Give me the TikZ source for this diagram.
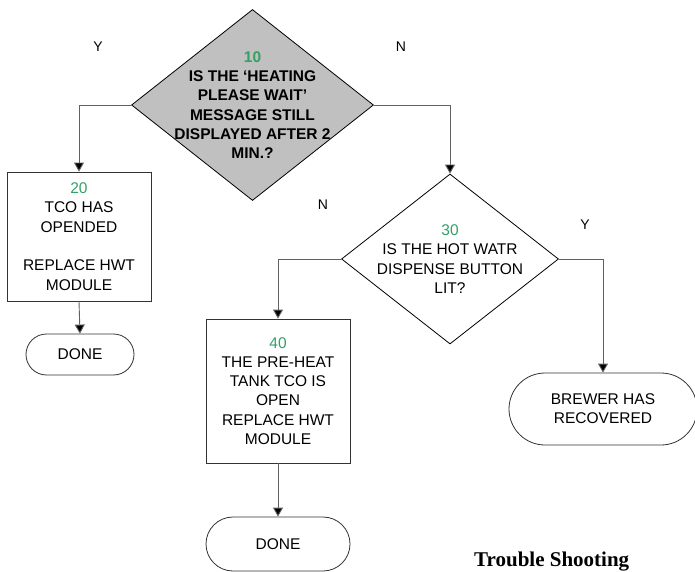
\documentclass[tikz,border=0pt]{standalone}
\usepackage{fontspec}
\setmainfont{Liberation Sans}
\newfontfamily\titlefont{Liberation Serif}
\usetikzlibrary{shapes.geometric,shapes.misc,arrows.meta}
\definecolor{stepgreen}{RGB}{51,160,102}
\definecolor{decisiongrey}{RGB}{192,192,192}
\tikzset{
  txt/.style={align=center,font=\fontsize{15.5}{19.3}\selectfont,inner sep=0pt},
  decision/.style={diamond,draw=black,line width=0.8pt,inner sep=0pt},
  process/.style={rectangle,draw=black!80,line width=0.8pt,inner sep=0pt},
  terminal/.style={rounded rectangle,draw=black!80,line width=0.8pt,inner sep=0pt,
    font=\fontsize{15.5}{19.3}\selectfont,align=center},
  flow/.style={draw=black!62,line width=0.9pt,-{Triangle[length=9pt,width=10pt,fill=black]}},
  branch/.style={font=\fontsize{14}{16}\selectfont,inner sep=0pt},
  num/.style={text=stepgreen}
}
\begin{document}
\begin{tikzpicture}[x=1pt,y=-1pt]
\useasboundingbox (0,0) rectangle (695,572);

% decision 10
\node[decision,fill=decisiongrey,minimum width=242pt,minimum height=191pt,
  label={[txt,font=\bfseries\fontsize{15.5}{19.3}\selectfont]center:{\textcolor{stepgreen}{10}\\IS THE ‘HEATING\\PLEASE WAIT’\\MESSAGE STILL\\DISPLAYED AFTER 2\\MIN.?}}]
  (d10) at (252.5,105) {};

% step 20
\node[process,minimum width=144pt,minimum height=129pt] (b20) at (79,236.5) {};
\node[txt] (t20) at (b20.center) {\textcolor{stepgreen}{20}\\TCO HAS\\OPENDED\\[19.3pt]REPLACE HWT\\MODULE};
\node[terminal,minimum width=108pt,minimum height=41pt] (done1) at (80,354.5) {DONE};

% decision 30
\node[decision,fill=white,minimum width=217pt,minimum height=170pt,
  label={[txt]center:{\textcolor{stepgreen}{30}\\IS THE HOT WATR\\DISPENSE BUTTON\\LIT?}}]
  (d30) at (450,259) {};

% step 40
\node[process,minimum width=144pt,minimum height=144pt] (b40) at (278,391) {};
\node[txt] (t40) at (b40.center) {\textcolor{stepgreen}{40}\\THE PRE-HEAT\\TANK TCO IS\\OPEN\\REPLACE HWT\\MODULE};
\node[terminal,minimum width=144pt,minimum height=54pt] (done2) at (278,544) {DONE};

% end state
\node[terminal,minimum width=188pt,minimum height=72pt] (brew) at (603,409) {BREWER HAS\\RECOVERED};

% connectors
\draw[flow] (d10.west) -| (b20.north);
\draw[flow] (d10.east) -| (d30.north);
\draw[flow] (b20.south) -- (done1.north);
\draw[flow] (d30.west) -| (b40.north);
\draw[flow] (d30.east) -| (brew.north);
\draw[flow] (b40.south) -- (done2.north);

% branch labels
\node[branch] (y1) at (98,47) {Y};
\node[branch] (n1) at (401,47) {N};
\node[branch] (n2) at (323,205) {N};
\node[branch] (y2) at (585,225) {Y};

% caption
\node[anchor=base west,inner sep=0pt,font=\titlefont\bfseries\fontsize{21}{24}\selectfont] (title) at (474,566) {Trouble Shooting};
\end{tikzpicture}
\end{document}
